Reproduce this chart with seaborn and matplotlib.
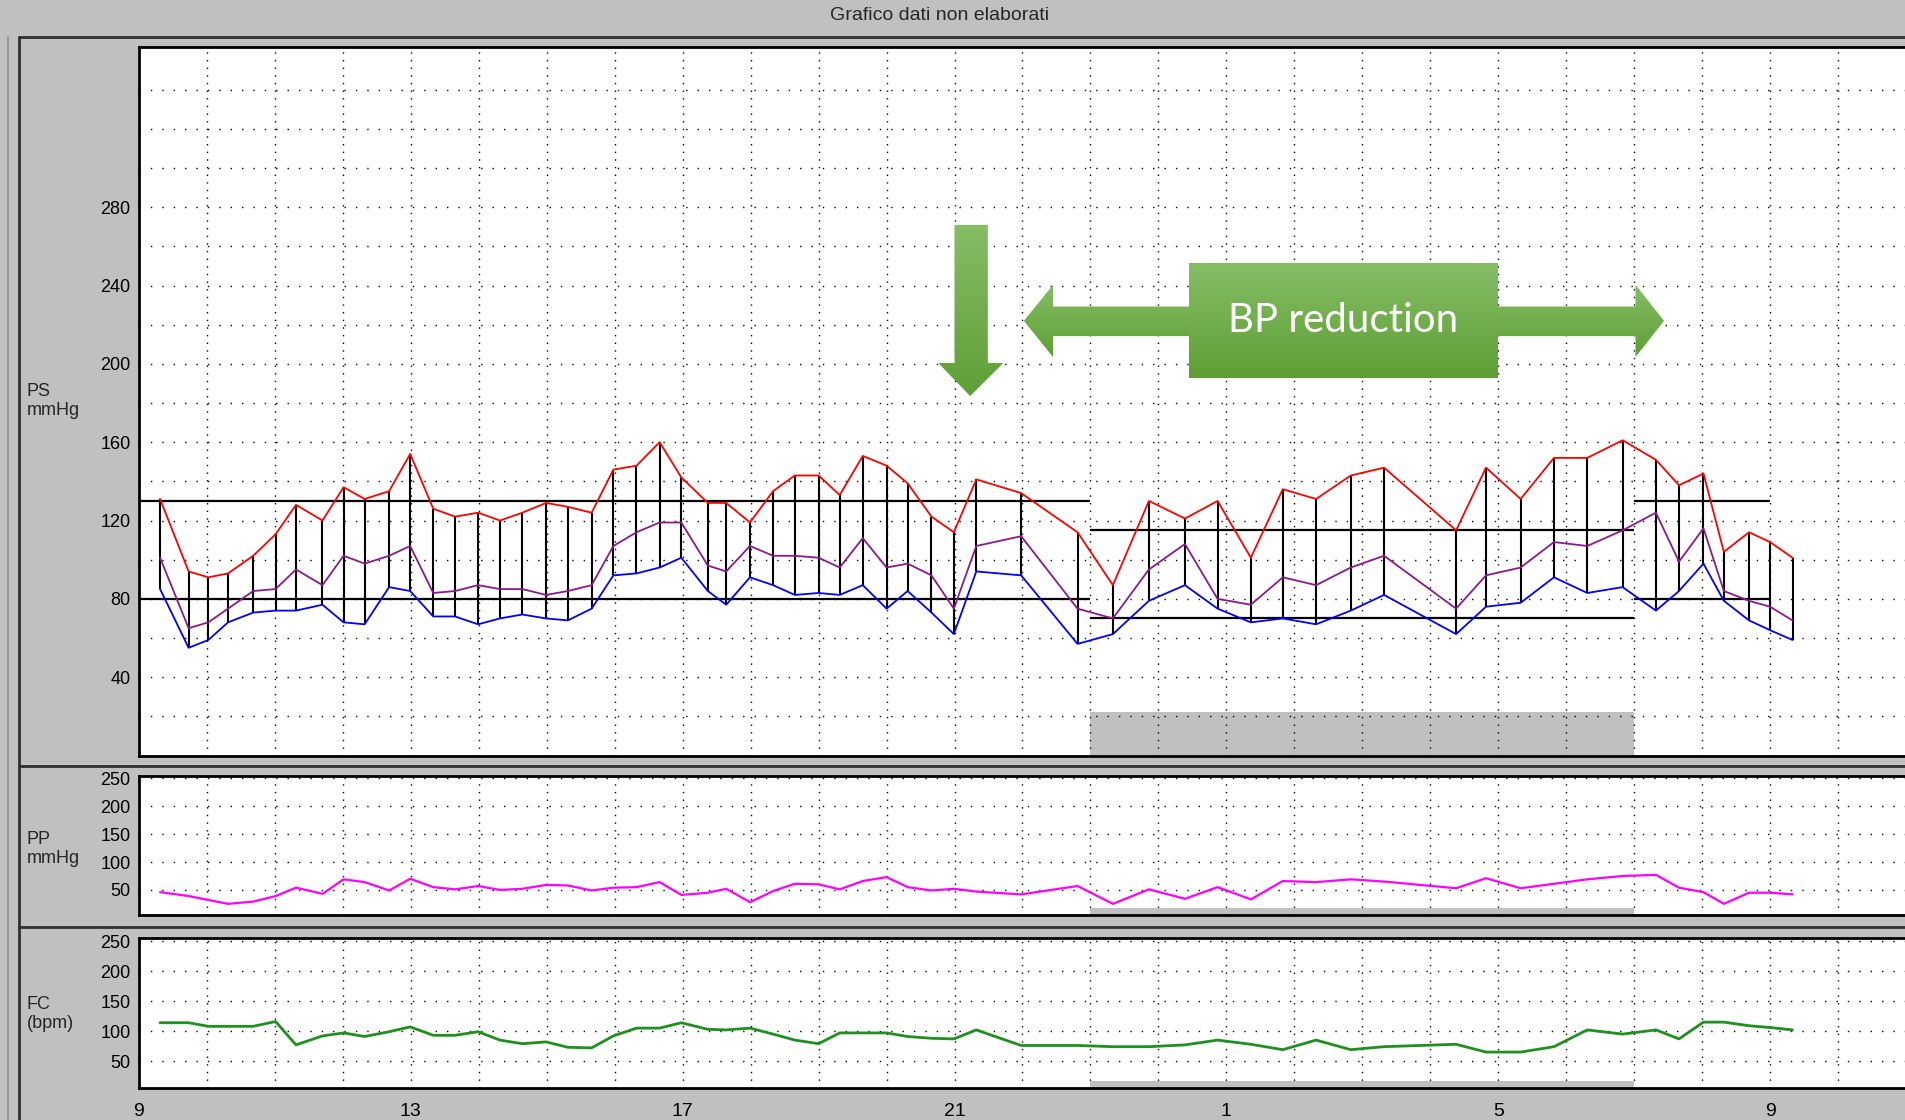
import seaborn as sns
import matplotlib.pyplot as plt
import pandas as pd
import numpy as np
from matplotlib import font_manager
from matplotlib.patches import Polygon
from matplotlib.lines import Line2D
from matplotlib.colors import LinearSegmentedColormap

# measurement times, hours from midnight of day 1 (values > 24 are the next day)
times = [9.31, 9.73, 10.02, 10.31, 10.68, 11.01, 11.31, 11.70, 12.01, 12.32,
         12.68, 12.99, 13.33, 13.65, 13.99, 14.31, 14.64, 14.99, 15.31, 15.66,
         15.98, 16.32, 16.66, 16.98, 17.37, 17.64, 17.99, 18.33, 18.65, 19.00,
         19.31, 19.65, 20.00, 20.31, 20.66, 20.99, 21.32, 21.98, 22.81, 23.33,
         23.86, 24.39, 24.87, 25.36, 25.83, 26.32, 26.83, 27.32, 28.38, 28.82,
         29.33, 29.82, 30.31, 30.83, 31.32, 31.66, 32.02, 32.32, 32.69, 33.00,
         33.33]
sys_bp = [131, 94, 91, 93, 102, 113, 128, 120, 137, 131,
          135, 154, 126, 122, 124, 120, 124, 129, 127, 124,
          146, 148, 160, 142, 129, 129, 119, 135, 143, 143,
          133, 153, 148, 139, 122, 114, 141, 134, 114, 87,
          130, 121, 130, 101, 136, 131, 143, 147, 115, 147,
          131, 152, 152, 161, 151, 138, 144, 104, 114, 109,
          101]
map_bp = [101, 65, 68, 75, 84, 85, 95, 87, 102, 98,
          102, 107, 83, 84, 87, 85, 85, 82, 84, 87,
          107, 114, 119, 119, 97, 94, 107, 102, 102, 101,
          96, 111, 96, 98, 92, 75, 107, 112, 75, 70,
          95, 108, 80, 77, 91, 87, 96, 102, 75, 92,
          96, 109, 107, 115, 124, 99, 116, 84, 79, 76,
          69]
dia_bp = [85, 55, 59, 68, 73, 74, 74, 77, 68, 67,
          86, 84, 71, 71, 67, 70, 72, 70, 69, 75,
          92, 93, 96, 101, 84, 77, 91, 87, 82, 83,
          82, 87, 75, 84, 73, 62, 94, 92, 57, 62,
          79, 87, 75, 68, 70, 67, 74, 82, 62, 76,
          78, 91, 83, 86, 74, 84, 98, 79, 69, 64,
          59]
pulse_p = [46, 39, 32, 25, 29, 39, 54, 43, 69, 64,
           49, 70, 55, 51, 57, 50, 52, 59, 58, 49,
           54, 55, 64, 41, 45, 52, 28, 48, 61, 60,
           51, 66, 73, 55, 49, 52, 47, 42, 57, 25,
           51, 34, 55, 33, 66, 64, 69, 65, 53, 71,
           53, 61, 69, 75, 77, 54, 46, 25, 45, 45,
           42]
heart_rate = [114, 114, 108, 108, 108, 116, 77, 92, 97, 91,
              99, 107, 93, 93, 99, 85, 79, 82, 73, 72,
              92, 105, 105, 114, 103, 102, 105, 95, 85, 79,
              97, 97, 97, 91, 88, 87, 102, 76, 76, 74,
              74, 77, 85, 78, 69, 85, 69, 74, 78, 65,
              65, 74, 102, 95, 102, 87, 115, 115, 109, 106,
              102]

# threshold segments: (from hour, to hour, systolic limit, diastolic limit)
limits = [(9, 23, 130, 80), (23, 31, 115, 70), (31, 33, 130, 80)]
night = (23, 31)
tick_hours = [9, 13, 17, 21, 25, 29, 33]
tick_labels = ["9", "13", "17", "21", "1", "5", "9"]

df = pd.DataFrame({"t": times, "sys": sys_bp, "map": map_bp, "dia": dia_bp,
                   "pp": pulse_p, "hr": heart_rate})

sns.set_style("white")
names = {f.name for f in font_manager.fontManager.ttflist}
ui_font = "Liberation Sans Narrow" if "Liberation Sans Narrow" in names else "Liberation Sans"
plt.rcParams["font.family"] = [ui_font, "DejaVu Sans"]

W, H = 1906, 1120
GRAY = "#c0c0c0"
fig = plt.figure(figsize=(W / 100, H / 100), dpi=100, facecolor=GRAY)


def fx(px):
    return px / W


def fy(py):
    return 1 - py / H


def panel(top, bottom):
    ax = fig.add_axes([fx(139), fy(bottom), 1 - fx(139), fy(top) - fy(bottom)])
    ax.set_facecolor("white")
    for side in ["left", "top", "bottom"]:
        ax.spines[side].set_color("black")
        ax.spines[side].set_linewidth(2)
    ax.spines["right"].set_visible(False)
    ax.set_xlim(9, 35)
    ax.tick_params(axis="y", which="both", direction="out", length=6, width=1.2,
                   labelsize=13, pad=0, colors="black")
    return ax


def dotted_grid(ax, levels):
    for h in range(10, 35):
        ax.axvline(h, color="black", lw=1.0, ls=(0, (1, 4.5)), zorder=1)
    for v in levels:
        ax.axhline(v, color="black", lw=1.0, ls=(0, (1, 7.2)), zorder=1)


ax_ps = panel(46.7, 755.5)
ax_pp = panel(775.7, 915)
ax_fc = panel(938.3, 1088)

# main blood pressure panel
ax_ps.axvspan(*night, ymin=0, ymax=0.061, color=GRAY, lw=0, zorder=0.5)
dotted_grid(ax_ps, range(20, 360, 20))
for x0, x1, s, d in limits:
    ax_ps.hlines([s, d], x0, x1, colors="black", lw=1.6, zorder=2)
ax_ps.vlines(df["t"], df["dia"], df["sys"], colors="black", lw=1.5, zorder=3)
sns.lineplot(data=df, x="t", y="sys", ax=ax_ps, color="#ff0000", lw=1.3,
             estimator=None, sort=False, zorder=4)
sns.lineplot(data=df, x="t", y="map", ax=ax_ps, color="#8a1a8a", lw=1.3,
             estimator=None, sort=False, zorder=4)
sns.lineplot(data=df, x="t", y="dia", ax=ax_ps, color="#0000ff", lw=1.3,
             estimator=None, sort=False, zorder=4)
ax_ps.set_yticks(range(40, 281, 40))
ax_ps.set_yticks(range(20, 261, 40), minor=True)

# green annotation shapes
cmap = LinearSegmentedColormap.from_list("grn", ["#5e9f35", "#86bd66"])
grad = np.linspace(0, 1, 256).reshape(-1, 1)


def green_shape(pts):
    poly = Polygon(pts, closed=True, facecolor="none", edgecolor="none", zorder=6)
    ax_ps.add_patch(poly)
    xs = [p[0] for p in pts]
    ys = [p[1] for p in pts]
    im = ax_ps.imshow(grad, cmap=cmap, origin="lower", aspect="auto", zorder=6,
                      extent=[min(xs), max(xs), min(ys), max(ys)],
                      interpolation="bilinear")
    im.set_clip_path(poly)


green_shape([(21.0, 271), (21.49, 271), (21.49, 200.5), (21.72, 200.5),
             (21.23, 183.6), (20.76, 200.5), (21.0, 200.5)])
green_shape([(22.02, 222), (22.45, 240.4), (22.45, 229.3), (31.02, 229.3),
             (31.02, 240.4), (31.44, 222), (31.02, 203.5), (31.02, 214.2),
             (22.45, 214.2), (22.45, 203.5)])
green_shape([(24.45, 192.8), (29.0, 192.8), (29.0, 251.4), (24.45, 251.4)])
ax_ps.text(26.72, 222, "BP reduction", color="white", fontsize=29,
           family=["Lato", "DejaVu Sans"], ha="center", va="center", zorder=7)

# pulse pressure panel
ax_pp.axvspan(*night, ymin=0, ymax=0.048, color=GRAY, lw=0, zorder=0.5)
dotted_grid(ax_pp, range(50, 251, 50))
sns.lineplot(data=df, x="t", y="pp", ax=ax_pp, color="#ff00ff", lw=1.6,
             estimator=None, sort=False, zorder=4)
ax_pp.set_yticks(range(50, 251, 50))

# heart rate panel
ax_fc.axvspan(*night, ymin=0, ymax=0.045, color=GRAY, lw=0, zorder=0.5)
dotted_grid(ax_fc, range(50, 251, 50))
sns.lineplot(data=df, x="t", y="hr", ax=ax_fc, color="#1f8f1f", lw=2.0,
             estimator=None, sort=False, zorder=4)
ax_fc.set_yticks(range(50, 251, 50))

for ax, ylim in [(ax_ps, (0, 362)), (ax_pp, (5, 255)), (ax_fc, (5, 255))]:
    ax.set_xlim(9, 35)
    ax.set_ylim(*ylim)
    ax.set_xlabel("")
    ax.set_ylabel("")

for ax in (ax_ps, ax_pp):
    ax.set_xticks([])
ax_fc.set_xticks(tick_hours)
ax_fc.set_xticklabels(tick_labels)
ax_fc.set_xticks(range(9, 35), minor=True)
ax_fc.tick_params(axis="x", which="both", direction="out", length=7, width=1.2,
                  labelsize=14, pad=4, colors="black")

# window frame
frame = dict(transform=fig.transFigure, color="#303030", lw=2)
fig.add_artist(Line2D([fx(19), fx(19)], [fy(37), 0], **frame))
fig.add_artist(Line2D([fx(19), 1], [fy(37), fy(37)], **frame))
fig.add_artist(Line2D([fx(19), 1], [fy(765.7), fy(765.7)], **frame))
fig.add_artist(Line2D([fx(19), 1], [fy(926.7), fy(926.7)], **frame))
fig.add_artist(Line2D([fx(8), fx(8)], [fy(37), 0], transform=fig.transFigure,
                      color="#9a9a9a", lw=1.5))

fig.text(fx(940), fy(16), "Grafico dati non elaborati", ha="center", va="center",
         fontsize=14, family=["Liberation Sans", "DejaVu Sans"])
for label, top in [("PS\nmmHg", 383), ("PP\nmmHg", 831), ("FC\n(bpm)", 996)]:
    fig.text(fx(27), fy(top), label, ha="left", va="top", fontsize=13,
             linespacing=1.15)

fig.savefig("out.png", dpi=100, facecolor=GRAY)
